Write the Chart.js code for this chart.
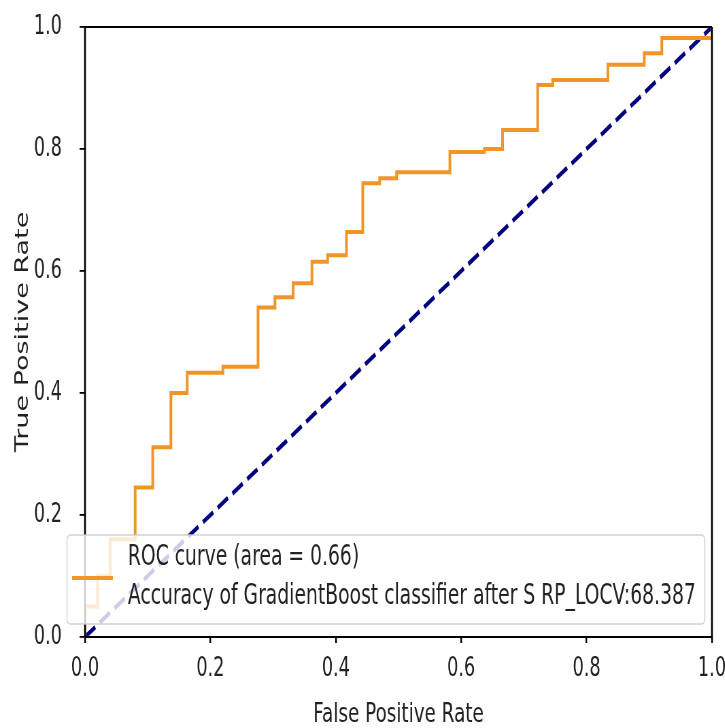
<!DOCTYPE html>
<html>
<head>
<meta charset="utf-8">
<script src="https://cdn.jsdelivr.net/npm/chart.js@4"></script>
<style>
  html, body { margin: 0; padding: 0; overflow: hidden; background: #fff; }
  /* the source figure is squeezed horizontally, so draw wide and squeeze */
  #wrap { width: 1066px; height: 728px; transform: scaleX(0.68); transform-origin: 0 0; }
</style>
</head>
<body>
<div id="wrap"><canvas id="roc" width="1066" height="728"></canvas></div>
<script>
// ROC curve corners
const fpr = [0, 0, 0.02, 0.02, 0.04, 0.04, 0.08, 0.08, 0.108, 0.108, 0.137, 0.137,
  0.163, 0.163, 0.22, 0.22, 0.276, 0.276, 0.303, 0.303, 0.332, 0.332, 0.362, 0.362,
  0.387, 0.387, 0.417, 0.417, 0.443, 0.443, 0.47, 0.47, 0.497, 0.497, 0.582, 0.582,
  0.637, 0.637, 0.666, 0.666, 0.722, 0.722, 0.746, 0.746, 0.834, 0.834, 0.892, 0.892,
  0.92, 0.92, 1.0, 1.0];
const tpr = [0, 0.05, 0.05, 0.1, 0.1, 0.16, 0.16, 0.245, 0.245, 0.311, 0.311, 0.40,
  0.40, 0.433, 0.433, 0.443, 0.443, 0.54, 0.54, 0.557, 0.557, 0.58, 0.58, 0.615,
  0.615, 0.626, 0.626, 0.664, 0.664, 0.744, 0.744, 0.752, 0.752, 0.762, 0.762, 0.795,
  0.795, 0.80, 0.80, 0.831, 0.831, 0.905, 0.905, 0.913, 0.913, 0.938, 0.938, 0.957,
  0.957, 0.982, 0.982, 1.0];
const chanceX = [0, 1];
const chanceY = [0, 1];
const tickValues = [0, 0.2, 0.4, 0.6, 0.8, 1.0];
const legendLines = ['ROC curve (area = 0.66)', 'Accuracy of GradientBoost classifier after S RP_LOCV:68.387'];

const orange = 'rgb(240,150,40)';
const textColor = '#222';

// black box round the plot, like matplotlib spines
const framePlugin = {
  id: 'frame',
  afterDatasetsDraw(chart) {
    const { ctx, chartArea: a } = chart;
    ctx.save();
    ctx.strokeStyle = '#000';
    ctx.lineWidth = 1.8;
    ctx.beginPath();
    ctx.moveTo(a.left, a.top); ctx.lineTo(a.right, a.top);
    ctx.moveTo(a.left, a.bottom); ctx.lineTo(a.right, a.bottom);
    ctx.stroke();
    ctx.lineWidth = 2.6;
    ctx.beginPath();
    ctx.moveTo(a.left, a.top); ctx.lineTo(a.left, a.bottom);
    ctx.moveTo(a.right, a.top); ctx.lineTo(a.right, a.bottom);
    ctx.stroke();
    ctx.restore();
  }
};

// two-line legend box in the lower left
const legendPlugin = {
  id: 'rocLegend',
  afterDraw(chart) {
    const { ctx } = chart;
    ctx.save();
    ctx.fillStyle = 'rgba(255,255,255,0.8)';
    ctx.strokeStyle = 'rgba(204,204,204,0.9)';
    ctx.lineWidth = 1.5;
    ctx.beginPath();
    ctx.roundRect(98.5, 535, 938, 89, 5);
    ctx.fill();
    ctx.stroke();

    ctx.strokeStyle = orange;
    ctx.lineWidth = 4;
    ctx.beginPath();
    ctx.moveTo(106, 578);
    ctx.lineTo(166, 578);
    ctx.stroke();

    ctx.fillStyle = textColor;
    ctx.font = '27.6px "DejaVu Sans"';
    ctx.textBaseline = 'middle';
    ctx.textAlign = 'left';
    ctx.fillText(legendLines[0], 188, 558);
    ctx.fillText(legendLines[1], 188, 597);
    ctx.restore();
  }
};

new Chart(document.getElementById('roc'), {
  type: 'line',
  data: {
    datasets: [
      {
        label: legendLines.join('\n'),
        data: fpr.map((x, i) => ({ x: x, y: tpr[i] })),
        borderColor: orange,
        borderWidth: 4,
        pointRadius: 0,
        tension: 0,
        fill: false
      },
      {
        label: 'chance',
        data: chanceX.map((x, i) => ({ x: x, y: chanceY[i] })),
        borderColor: '#000080',
        borderWidth: 4.5,
        borderDash: [18, 8],
        pointRadius: 0,
        tension: 0,
        fill: false
      }
    ]
  },
  options: {
    responsive: false,
    animation: false,
    devicePixelRatio: 1,
    layout: { padding: { top: 27, right: 19, left: 0, bottom: 0 } },
    plugins: {
      legend: { display: false },
      tooltip: { enabled: false }
    },
    scales: {
      x: {
        type: 'linear',
        min: 0,
        max: 1,
        afterBuildTicks: scale => { scale.ticks = tickValues.map(v => ({ value: v })); },
        afterFit: scale => {
          scale.height = 91;
          scale.paddingLeft = 0;
          scale.paddingRight = 0;
        },
        border: { display: false },
        grid: { drawOnChartArea: false, tickLength: 6, tickColor: '#000', lineWidth: 2.4 },
        ticks: {
          padding: 11,
          color: textColor,
          font: { family: 'DejaVu Sans', size: 26 },
          callback: v => v.toFixed(1)
        },
        title: {
          display: true,
          text: 'False Positive Rate',
          color: textColor,
          font: { family: 'DejaVu Sans', size: 27 },
          padding: { top: 0, bottom: -3 }
        }
      },
      y: {
        type: 'linear',
        min: 0,
        max: 1,
        afterBuildTicks: scale => { scale.ticks = tickValues.map(v => ({ value: v })); },
        afterFit: scale => {
          scale.width = 125;
          scale.paddingTop = 0;
          scale.paddingBottom = 0;
        },
        border: { display: false },
        grid: { drawOnChartArea: false, tickLength: 8, tickColor: '#000', lineWidth: 1.8 },
        ticks: {
          padding: 26,
          color: textColor,
          font: { family: 'DejaVu Sans', size: 26 },
          callback: v => v.toFixed(1)
        },
        title: {
          display: true,
          text: 'True Positive Rate',
          color: textColor,
          font: { family: 'DejaVu Sans', size: 27 },
          padding: { top: 18, bottom: 0 }
        }
      }
    }
  },
  plugins: [framePlugin, legendPlugin]
});
</script>
</body>
</html>
